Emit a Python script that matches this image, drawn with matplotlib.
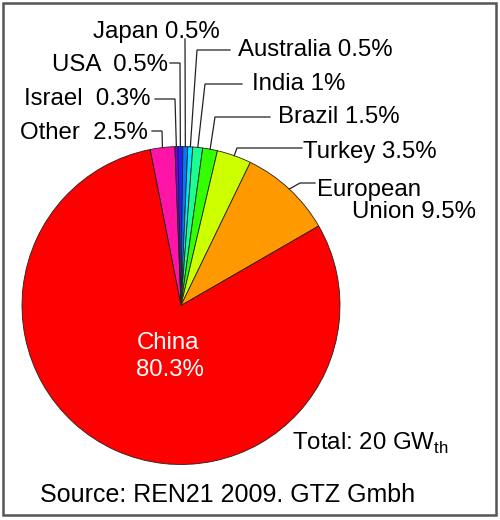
import numpy as np
import matplotlib
matplotlib.use('Agg')
import matplotlib.pyplot as plt
from matplotlib.patches import Rectangle

plt.rcParams['font.family'] = ['Liberation Sans', 'DejaVu Sans']
plt.rcParams['mathtext.fontset'] = 'custom'
plt.rcParams['mathtext.rm'] = 'Liberation Sans'

# shares in %, clockwise from the "Other" wedge
names = ['Other', 'Israel', 'USA', 'Japan', 'Australia', 'India', 'Brazil',
         'Turkey', 'European Union', 'China']
shares = [2.5, 0.3, 0.5, 0.5, 0.5, 1.0, 1.5, 3.5, 9.5, 80.3]
colors = ['#ff14a8', '#7a00e6', '#1f1fff', '#0078ff', '#00e6ff', '#1aff90',
          '#33ff00', '#ccff00', '#ff9900', '#ff0000']
labels = ['Other  2.5%', 'Israel  0.3%', 'USA  0.5%', 'Japan 0.5%',
          'Australia 0.5%', 'India 1%', 'Brazil 1.5%', 'Turkey 3.5%',
          'European', None]

# layout in image pixels (y from top): text x, text y, line y, elbow x, line end x
label_layout = [
    (20, 133, 131, 162, 152),
    (24, 99, 99, 175, 155),
    (52, 65, 63, 180, 170),
    (93, 32, 39, 185, 185),
    (238, 50, 50, 197, 230),
    (252, 84, 84, 205, 242),
    (278, 117, 117, 215, 270),
    (303, 152, 148, 237, 302),
    (317, 190, 183, 300, 315),
]

W, H = 500, 520
cx, cy, r = 181, 520 - 305.5, 159
fs = 17.3

fig = plt.figure(figsize=(W / 100, H / 100), dpi=100)
ax = fig.add_axes([0, 0, 1, 1])
ax.set_xlim(0, W)
ax.set_ylim(0, H)
ax.set_aspect('equal')
ax.axis('off')

start = 101.2
wedges, _ = ax.pie(shares, colors=colors, startangle=start, counterclock=False,
                   center=(cx, cy), radius=r, frame=True,
                   wedgeprops={'edgecolor': '#222222', 'linewidth': 0.6})
ax.set_xlim(0, W)
ax.set_ylim(0, H)
ax.axis('off')

for w, lab, lay in zip(wedges, labels, label_layout):
    tx, ty, ly, ex, lx = lay
    mid = np.deg2rad((w.theta1 + w.theta2) / 2)
    px, py = cx + r * np.cos(mid), cy + r * np.sin(mid)
    ax.plot([px, ex, lx], [py, H - ly, H - ly], color='#222222', lw=0.9,
            solid_joinstyle='miter')
    ax.text(tx, H - ty, lab, fontsize=fs, ha='left', va='center')

ax.text(352, H - 212, 'Union 9.5%', fontsize=fs, ha='left', va='center')
ax.text(168, H - 343, 'China', fontsize=fs, color='white', ha='center', va='center')
ax.text(170, H - 370, '80.3%', fontsize=fs, color='white', ha='center', va='center')
ax.text(292, H - 443, r'Total: 20 GW$_{\mathrm{th}}$', fontsize=fs, ha='left',
        va='center')
ax.text(40, H - 495, 'Source: REN21 2009. GTZ Gmbh', fontsize=18, ha='left',
        va='center')

ax.add_patch(Rectangle((3, 5), 493, 512, fill=False, edgecolor='#555555',
                       lw=1.8))

fig.savefig('out.png', dpi=100)
